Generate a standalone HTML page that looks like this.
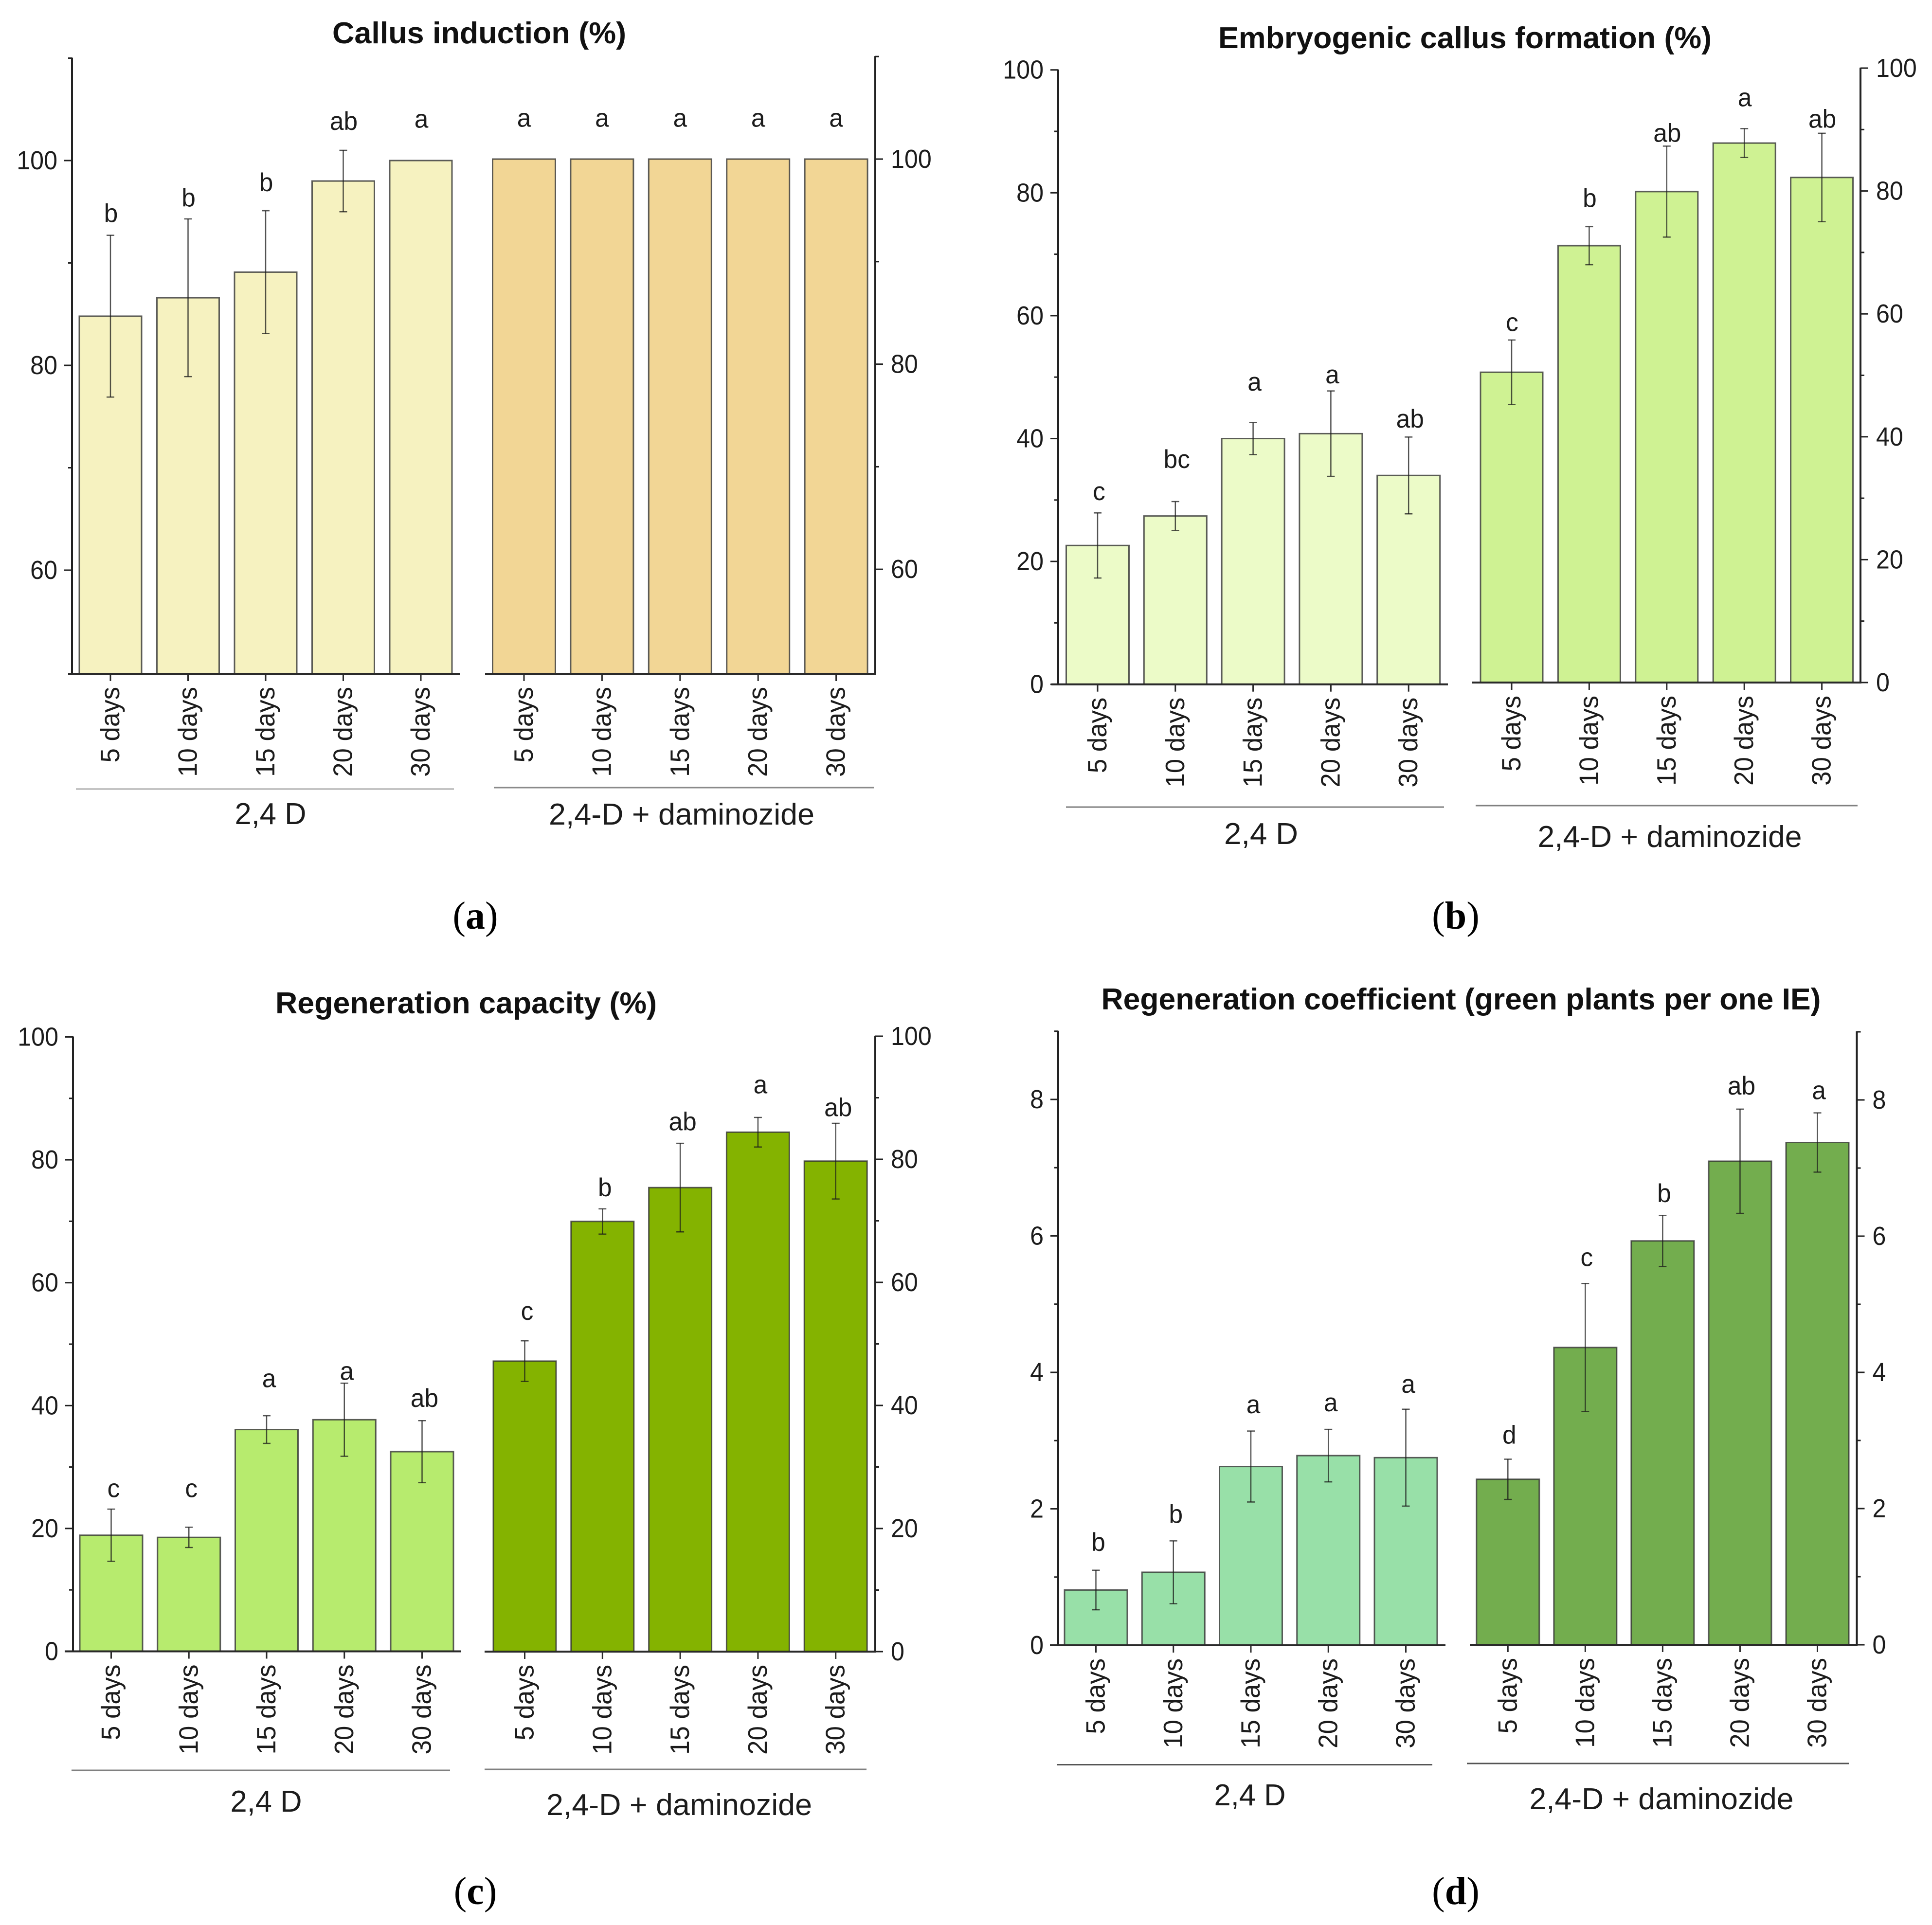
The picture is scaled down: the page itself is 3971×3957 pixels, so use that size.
<!DOCTYPE html>
<html lang="en">
<head>
<meta charset="utf-8">
<title>Callus induction and regeneration charts</title>
<style>
html,body{margin:0;padding:0;background:#fff;}
svg{display:block;}
text{font-family:"Liberation Sans",Arial,sans-serif;fill:#1c1c1c;}
.title{font-weight:bold;font-size:62px;text-anchor:middle;fill:#111;}
.group{font-size:62px;text-anchor:middle;}
.plabel{font-family:"Liberation Serif","Times New Roman",serif;font-size:80px;text-anchor:middle;fill:#000;}
.plabel tspan.b{font-weight:bold;}
</style>
</head>
<body>
<svg id="figure" xmlns="http://www.w3.org/2000/svg" width="3971" height="3957" viewBox="0 0 3971 3957">
  <rect x="0" y="0" width="3971" height="3957" fill="#ffffff"/>

  <g id="panel-a">
    <text class="title" x="985" y="89" textLength="604" lengthAdjust="spacingAndGlyphs">Callus induction (%)</text>
    <line x1="156" x2="933" y1="1622" y2="1622" stroke="#c4c4c4" stroke-width="4"/>
    <line x1="1015" x2="1796" y1="1619" y2="1619" stroke="#8a8a8a" stroke-width="3"/>
    <text class="group" x="556" y="1694" textLength="147" lengthAdjust="spacingAndGlyphs">2,4 D</text>
    <text class="group" x="1401" y="1695" textLength="546" lengthAdjust="spacingAndGlyphs">2,4-D + daminozide</text>
    <text class="plabel" x="977" y="1909">(<tspan class="b">a</tspan>)</text>
  </g>

  <g id="panel-b">
    <text class="title" x="3011" y="99" textLength="1014" lengthAdjust="spacingAndGlyphs">Embryogenic callus formation (%)</text>
    <line x1="2191" x2="2968" y1="1659" y2="1659" stroke="#808080" stroke-width="3"/>
    <line x1="3033" x2="3818" y1="1656" y2="1656" stroke="#808080" stroke-width="3"/>
    <text class="group" x="2592" y="1735" textLength="152" lengthAdjust="spacingAndGlyphs">2,4 D</text>
    <text class="group" x="3432" y="1741" textLength="543" lengthAdjust="spacingAndGlyphs">2,4-D + daminozide</text>
    <text class="plabel" x="2992" y="1909">(<tspan class="b">b</tspan>)</text>
  </g>

  <g id="panel-c">
    <text class="title" x="958" y="2083" textLength="784" lengthAdjust="spacingAndGlyphs">Regeneration capacity (%)</text>
    <line x1="147" x2="925" y1="3639" y2="3639" stroke="#808080" stroke-width="3"/>
    <line x1="996" x2="1781" y1="3637" y2="3637" stroke="#808080" stroke-width="3"/>
    <text class="group" x="547" y="3724" textLength="147" lengthAdjust="spacingAndGlyphs">2,4 D</text>
    <text class="group" x="1396" y="3731" textLength="546" lengthAdjust="spacingAndGlyphs">2,4-D + daminozide</text>
    <text class="plabel" x="977" y="3914">(<tspan class="b">c</tspan>)</text>
  </g>

  <g id="panel-d">
    <text class="title" x="3003" y="2075" textLength="1479" lengthAdjust="spacingAndGlyphs">Regeneration coefficient (green plants per one IE)</text>
    <line x1="2172" x2="2944" y1="3627.5" y2="3627.5" stroke="#555555" stroke-width="3"/>
    <line x1="3015" x2="3800" y1="3625" y2="3625" stroke="#555555" stroke-width="3"/>
    <text class="group" x="2569" y="3711" textLength="147" lengthAdjust="spacingAndGlyphs">2,4 D</text>
    <text class="group" x="3415" y="3719" textLength="543" lengthAdjust="spacingAndGlyphs">2,4-D + daminozide</text>
    <text class="plabel" x="2992" y="3914">(<tspan class="b">d</tspan>)</text>
  </g>
</svg>

<script>
// ---- Data ----
const categories = ["5 days", "10 days", "15 days", "20 days", "30 days"];

const ticksInduction = [60, 80, 100];
const minorInduction = [70, 90, 110];
const ticksPercent = [0, 20, 40, 60, 80, 100];
const minorPercent = [10, 30, 50, 70, 90];
const ticksCoefficient = [0, 2, 4, 6, 8];
const minorCoefficient = [1, 3, 5, 7, 9];

const aLeftValues = [84.8, 86.6, 89.1, 98, 100];
const aLeftErrors = [7.9, 7.7, 6, 3, 0];
const aLeftLetters = ["b", "b", "b", "ab", "a"];
const aLeftLetterLevels = [94, 95.5, 97, 103, 103.2];

const aRightValues = [100, 100, 100, 100, 100];
const aRightErrors = [0, 0, 0, 0, 0];
const aRightLetters = ["a", "a", "a", "a", "a"];
const aRightLetterLevels = [103.15, 103.15, 103.15, 103.15, 103.15];

const bLeftValues = [22.6, 27.4, 40, 40.8, 34];
const bLeftErrors = [5.3, 2.35, 2.6, 6.95, 6.25];
const bLeftLetters = ["c", "bc", "a", "a", "ab"];
const bLeftLetterLevels = [30, 35.2, 47.8, 49, 41.8];

const bRightValues = [50.5, 71.1, 79.9, 87.8, 82.2];
const bRightErrors = [5.25, 3.1, 7.4, 2.35, 7.2];
const bRightLetters = ["c", "b", "ab", "a", "ab"];
const bRightLetterLevels = [57.2, 77.4, 88, 93.8, 90.3];

const cLeftValues = [18.9, 18.55, 36.1, 37.7, 32.5];
const cLeftErrors = [4.25, 1.65, 2.25, 5.95, 5.05];
const cLeftLetters = ["c", "c", "a", "a", "ab"];
const cLeftLetterLevels = [25.1, 25.1, 43, 44.2, 39.8];

const cRightValues = [47.2, 69.9, 75.4, 84.4, 79.7];
const cRightErrors = [3.3, 2.05, 7.2, 2.4, 6.15];
const cRightLetters = ["c", "b", "ab", "a", "ab"];
const cRightLetterLevels = [53.9, 74, 84.7, 90.7, 87];

const dLeftValues = [0.81, 1.07, 2.62, 2.78, 2.75];
const dLeftErrors = [0.29, 0.46, 0.52, 0.385, 0.71];
const dLeftLetters = ["b", "b", "a", "a", "a"];
const dLeftLetterLevels = [1.385, 1.795, 3.4, 3.43, 3.7];

const dRightValues = [2.43, 4.365, 5.93, 7.1, 7.375];
const dRightErrors = [0.295, 0.94, 0.375, 0.765, 0.435];
const dRightLetters = ["d", "c", "b", "ab", "a"];
const dRightLetterLevels = [2.955, 5.56, 6.5, 8.08, 8.01];

// ---- Layout of each sub-plot (axis geometry, not data) ----
const subplots = [
  {id:"panel-a", name:"a-2-4-d", side:"left", axisX:148, axisY:1385, base:1382.5, vMin:50, vMax:110, k:21.05, x0:227, pitch:159.5, bw:128, dx:1, xStart:140, xEnd:945, fill:"#F6F2C0",
   values:aLeftValues, errors:aLeftErrors, letters:aLeftLetters, levels:aLeftLetterLevels, ticks:ticksInduction, minor:minorInduction},
  {id:"panel-a", name:"a-daminozide", side:"right", axisX:1799, axisY:1385, base:1381, vMin:50, vMax:110, k:21.08, x0:1077, pitch:160.4, bw:129, dx:0, xStart:997, xEnd:1801, fill:"#F2D695",
   values:aRightValues, errors:aRightErrors, letters:aRightLetters, levels:aRightLetterLevels, ticks:ticksInduction, minor:minorInduction},
  {id:"panel-b", name:"b-2-4-d", side:"left", axisX:2175, axisY:1406.7, base:1406.7, vMin:0, vMax:100, k:12.63, x0:2256, pitch:159.8, bw:129, dx:3, xStart:2161, xEnd:2976, fill:"#ECFBC8",
   values:bLeftValues, errors:bLeftErrors, letters:bLeftLetters, levels:bLeftLetterLevels, ticks:ticksPercent, minor:minorPercent},
  {id:"panel-b", name:"b-daminozide", side:"right", axisX:3824, axisY:1403, base:1403, vMin:0, vMax:100, k:12.63, x0:3107, pitch:159.4, bw:128, dx:1, xStart:3026, xEnd:3826, fill:"#CFF293",
   values:bRightValues, errors:bRightErrors, letters:bRightLetters, levels:bRightLetterLevels, ticks:ticksPercent, minor:minorPercent},
  {id:"panel-c", name:"c-2-4-d", side:"left", axisX:150, axisY:3394.5, base:3394.5, vMin:0, vMax:100, k:12.63, x0:228.5, pitch:159.75, bw:129, dx:5, xStart:133, xEnd:948, fill:"#B7EB6E",
   values:cLeftValues, errors:cLeftErrors, letters:cLeftLetters, levels:cLeftLetterLevels, ticks:ticksPercent, minor:minorPercent},
  {id:"panel-c", name:"c-daminozide", side:"right", axisX:1799, axisY:3395, base:3395, vMin:0, vMax:100, k:12.65, x0:1078.5, pitch:159.8, bw:129, dx:5, xStart:996, xEnd:1801, fill:"#84B300",
   values:cRightValues, errors:cRightErrors, letters:cRightLetters, levels:cRightLetterLevels, ticks:ticksPercent, minor:minorPercent},
  {id:"panel-d", name:"d-2-4-d", side:"left", axisX:2175, axisY:3382, base:3382, vMin:0, vMax:9, k:140.25, x0:2252.5, pitch:159.25, bw:129, dx:5, xStart:2158, xEnd:2971, fill:"#98E0A8",
   values:dLeftValues, errors:dLeftErrors, letters:dLeftLetters, levels:dLeftLetterLevels, ticks:ticksCoefficient, minor:minorCoefficient},
  {id:"panel-d", name:"d-daminozide", side:"right", axisX:3816.5, axisY:3381, base:3381, vMin:0, vMax:9, k:140, x0:3099.3, pitch:159.05, bw:129, dx:3, xStart:3021, xEnd:3818, fill:"#73AD4E",
   values:dRightValues, errors:dRightErrors, letters:dRightLetters, levels:dRightLetterLevels, ticks:ticksCoefficient, minor:minorCoefficient}
];

const SVG_NS = "http://www.w3.org/2000/svg";

function make(tag, attrs, parent) {
  const el = document.createElementNS(SVG_NS, tag);
  for (const key in attrs) el.setAttribute(key, attrs[key]);
  parent.appendChild(el);
  return el;
}

function drawSubplot(s) {
  const root = document.getElementById(s.id);
  const g = make("g", {}, root);
  
  

  const yOf = v => s.base - (v - s.vMin) * s.k;
  const xOf = i => s.x0 + i * s.pitch;
  const tickDir = s.side === "left" ? -1 : 1;

  // Bars
  s.values.forEach((v, i) => {
    const bar = make("rect", {
      x: xOf(i) - s.bw / 2, y: yOf(v), width: s.bw, height: s.axisY - yOf(v),
      fill: s.fill, stroke: "#333333", "stroke-opacity": "0.8", "stroke-width": 3
    }, g);
    
    
  });

  // Error bars
  s.errors.forEach((e, i) => {
    if (e <= 0) return;
    const cx = xOf(i);
    const hi = yOf(s.values[i] + e);
    const lo = yOf(s.values[i] - e);
    const stem = make("line", {x1: cx, x2: cx, y1: hi, y2: lo, stroke: "#1a1a1a", "stroke-opacity": "0.75", "stroke-width": 2.5}, g);
    
    
    const capTop = make("line", {x1: cx - 8, x2: cx + 8, y1: hi, y2: hi, stroke: "#1a1a1a", "stroke-opacity": "0.75", "stroke-width": 2.5}, g);
    
    
    const capBottom = make("line", {x1: cx - 8, x2: cx + 8, y1: lo, y2: lo, stroke: "#1a1a1a", "stroke-opacity": "0.75", "stroke-width": 2.5}, g);
    
    
  });

  // Significance letters
  s.letters.forEach((t, i) => {
    const lab = make("text", {"text-anchor": "middle", "font-size": 53, transform: "translate(" + (xOf(i) + s.dx) + " " + yOf(s.levels[i]) + ") scale(0.97 1)"}, g);
    lab.textContent = t;
    
    
  });

  // Y axis
  const yAxis = make("line", {x1: s.axisX, x2: s.axisX, y1: yOf(s.vMax) - 1, y2: s.axisY, stroke: "#222", "stroke-width": 4}, g);
  
  

  s.ticks.forEach(v => {
    const tick = make("line", {x1: s.axisX, x2: s.axisX + tickDir * 16, y1: yOf(v), y2: yOf(v), stroke: "#222", "stroke-width": 3}, g);
    
    
    const lx = s.side === "left" ? s.axisX - 30 : s.axisX + 32;
    const ly = yOf(v) + 18;
    const lab = make("text", {
      "text-anchor": s.side === "left" ? "end" : "start",
      "font-size": 54,
      transform: "translate(" + lx + " " + ly + ") scale(0.93 1)"
    }, g);
    lab.textContent = String(v);
    
    
  });

  s.minor.forEach(v => {
    const tick = make("line", {x1: s.axisX, x2: s.axisX + tickDir * 8, y1: yOf(v), y2: yOf(v), stroke: "#222", "stroke-width": 3}, g);
    
    
  });

  // X axis
  const xAxis = make("line", {x1: s.xStart, x2: s.xEnd, y1: s.axisY, y2: s.axisY, stroke: "#2a2a2a", "stroke-width": 4}, g);
  
  

  categories.forEach((c, i) => {
    const cx = xOf(i);
    const tick = make("line", {x1: cx, x2: cx, y1: s.axisY, y2: s.axisY + 15, stroke: "#2a2a2a", "stroke-width": 3}, g);
    
    
    const lx = cx + 18;
    const ly = s.axisY + 27;
    const lab = make("text", {"text-anchor": "end", "font-size": 55, transform: "translate(" + lx + " " + ly + ") rotate(-90) scale(0.96 1)"}, g);
    lab.textContent = c;
    
    
  });
}

subplots.forEach(drawSubplot);
</script>
</body>
</html>
